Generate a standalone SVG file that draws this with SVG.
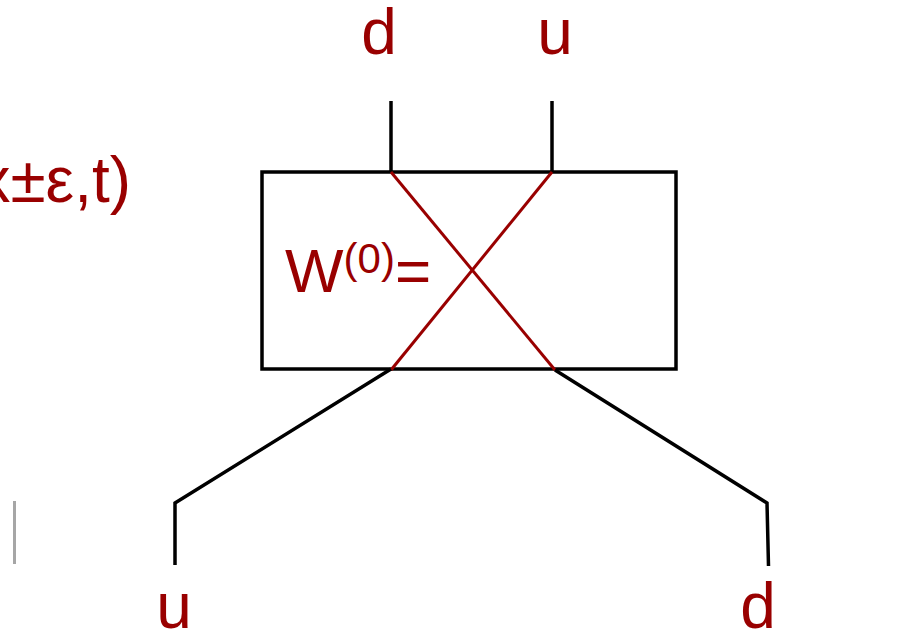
<svg xmlns="http://www.w3.org/2000/svg" width="915" height="632" viewBox="0 0 915 632">
<style>
.lbl{font-family:"Liberation Sans",Arial,sans-serif;fill:#990000}
.blk{stroke:#000;stroke-width:3.5;fill:none;stroke-linejoin:miter}
.red{stroke:#990000;stroke-width:3;fill:none}
</style>
<rect width="915" height="632" fill="#fff"/>
<text class="lbl" x="131" y="202" font-size="64" text-anchor="end">x±ε,t)</text>
<line x1="14.5" y1="501" x2="14.5" y2="564" stroke="#a6a6a6" stroke-width="3"/>
<g id="box">
<rect class="blk" x="262" y="172" width="414" height="197"/>
<text class="lbl" x="285" y="292" font-size="62">W<tspan font-size="42" dy="-19">(0)</tspan><tspan dy="19">=</tspan></text>
</g>
<g id="label-d-top"><text class="lbl" x="379" y="54" font-size="64" text-anchor="middle">d</text></g>
<g id="label-u-top"><text class="lbl" x="555" y="54" font-size="64" text-anchor="middle">u</text></g>
<g id="label-u-bottom"><text class="lbl" x="174" y="628" font-size="64" text-anchor="middle">u</text></g>
<g id="label-d-bottom"><text class="lbl" x="758" y="628" font-size="64" text-anchor="middle">d</text></g>
<g id="connectors">
<line class="blk" x1="391" y1="101" x2="391" y2="172"/>
<line class="blk" x1="552" y1="101" x2="552" y2="172"/>
<line class="red" x1="391" y1="172" x2="555" y2="370"/>
<line class="red" x1="552" y1="172" x2="391" y2="370"/>
<polyline class="blk" points="391,369 175,503 175,565"/>
<polyline class="blk" points="555,370 767,503 768.5,566"/>
</g>
</svg>
